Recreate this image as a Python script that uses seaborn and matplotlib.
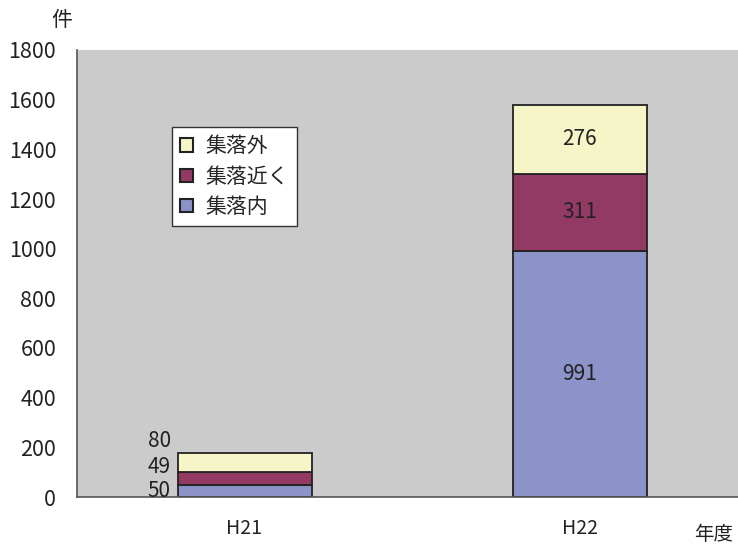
import matplotlib
matplotlib.use("Agg")
import matplotlib.pyplot as plt
import seaborn as sns
import pandas as pd
import numpy as np

sns.set_theme(style="white")
plt.rcParams['font.family'] = ['Noto Sans CJK JP', 'DejaVu Sans']

years = ["H21", "H22"]
series = ["集落内", "集落近く", "集落外"]
inside = [50, 991]
near = [49, 311]
outside = [80, 276]
colors = {"集落内": "#8b93c8", "集落近く": "#933a64", "集落外": "#f5f5c8"}

df = pd.DataFrame({"年度": years, "集落内": inside, "集落近く": near, "集落外": outside})
long = df.melt(id_vars="年度", var_name="区分", value_name="件数")

fig = plt.figure(figsize=(7.38, 5.46), dpi=100)
ax = fig.add_axes([77 / 738, 49 / 546, 670 / 738, 447 / 546])
ax.set_facecolor("#cbcbcb")

bottom = np.zeros(len(years))
for s in series:
    vals = np.array(df[s], dtype=float)
    sub = long[long["区分"] == s]
    sns.barplot(data=sub, x="年度", y="件数", ax=ax, color=colors[s], width=0.4,
                saturation=1, edgecolor="#222222", linewidth=1.3, bottom=bottom,
                label=s, order=years)
    bottom = bottom + vals

# value labels: inside the tall bar, beside the short one
cum = np.zeros(len(years))
for s in series:
    vals = np.array(df[s], dtype=float)
    ax.text(1, cum[1] + vals[1] / 2, f"{int(vals[1])}", ha="center", va="center",
            fontsize=15, color="#222222")
    cum = cum + vals
side_y = {"集落内": 26, "集落近く": 120, "集落外": 225}
for s in series:
    ax.text(-0.22, side_y[s], f"{int(df[s][0])}", ha="right", va="center",
            fontsize=15, color="#222222")

ax.set_xlim(-0.5, 1.5)
ax.set_ylim(0, 1800)
ax.set_yticks(np.arange(0, 1801, 200))
ax.set_xticks([0, 0.5, 1])
ax.set_xticklabels(["H21", "", "H22"])
ax.tick_params(axis="y", direction="in", length=6, width=1, color="#555555",
               labelsize=15.5, pad=15, labelcolor="#222222")
ax.tick_params(axis="x", direction="in", length=6, width=1, color="#555555",
               labelsize=14, pad=15, labelcolor="#222222")
for t in ax.xaxis.get_major_ticks():
    if t.get_loc() != 0.5:
        t.tick1line.set_visible(False)
ax.set_xlabel("")
ax.set_ylabel("")
for sp in ["top", "right"]:
    ax.spines[sp].set_visible(False)
for sp in ["left", "bottom"]:
    ax.spines[sp].set_color("#555555")
    ax.spines[sp].set_linewidth(1.2)

h, l = ax.get_legend_handles_labels()
order = [l.index(s) for s in ["集落外", "集落近く", "集落内"]]
leg = ax.legend([h[i] for i in order], [l[i] for i in order],
                loc="upper left", bbox_to_anchor=((172 - 77) / 670, (497 - 127) / 447),
                frameon=True, fancybox=False, edgecolor="#333333", facecolor="white",
                framealpha=1, fontsize=15, handlelength=0.6, handleheight=0.6,
                borderpad=0.4, labelspacing=0.4, handletextpad=0.6, borderaxespad=0)
leg.get_frame().set_linewidth(1.0)
for p in leg.get_patches():
    p.set_linewidth(1.5)

fig.text(62 / 738, 1 - 20 / 546, "件", ha="center", va="center", fontsize=15, color="#222222")
fig.text(714 / 738, 1 - 534 / 546, "年度", ha="center", va="center", fontsize=14, color="#222222")

fig.savefig("out.png", dpi=100, facecolor="white")
